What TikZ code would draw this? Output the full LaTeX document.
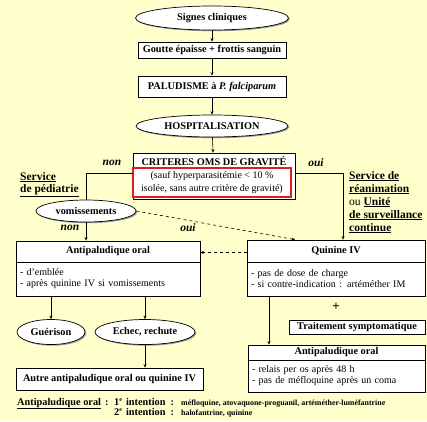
\documentclass[tikz,border=0pt]{standalone}
\usepackage{fontspec}
\setmainfont{Liberation Serif}
\usetikzlibrary{shapes.geometric,arrows.meta,shadows}
\definecolor{bgyel}{RGB}{255,255,204}
\definecolor{redbox}{RGB}{220,30,30}
\newcommand{\supe}{\raisebox{3.2pt}{\fontsize{6}{6}\selectfont e}}
\begin{document}
\begin{tikzpicture}[x=1pt,y=-1pt,
  shad/.style={drop shadow={shadow xshift=1.2pt,shadow yshift=-1.2pt,fill=black!40,opacity=1}},
  tit/.style={font=\bfseries\fontsize{10.3}{12}\selectfont},
  txt/.style={font=\fontsize{10}{11}\selectfont},
  box/.style={draw,fill=white,line width=0.7pt,inner sep=0pt,shad},
  oval/.style={ellipse,draw,fill=white,line width=0.7pt,inner sep=0pt,shad,tit},
  body/.style={box,txt,align=left,inner xsep=4pt,inner ysep=0pt},
  conn/.style={line width=0.6pt},
  arr/.style={conn,-{Stealth[length=3.5pt,width=3pt]}},
  lab/.style={font=\bfseries\itshape\fontsize{11.5}{13}\selectfont,inner sep=0pt},
  svc/.style={font=\bfseries\fontsize{11.5}{13}\selectfont,inner sep=0pt,anchor=base west},
  foot/.style={font=\bfseries\fontsize{10.3}{12}\selectfont,inner sep=0pt,anchor=base west},
  small/.style={font=\bfseries\fontsize{7.9}{8}\selectfont,inner sep=0pt,anchor=base west}
]
\useasboundingbox (0,0) rectangle (427,421);
\fill[bgyel] (0,0) rectangle (427,421);

% top chain
\node[oval,minimum width=153pt,minimum height=24pt] (signes) at (212,18) {Signes cliniques};
\node[box,tit,minimum width=148pt,minimum height=16pt] (goutte) at (212,50) {Goutte épaisse + frottis sanguin};
\node[box,tit,minimum width=148pt,minimum height=21pt] (palu) at (212,86.5) {PALUDISME à \textit{P. falciparum}};
\node[oval,minimum width=152pt,minimum height=22pt] (hosp) at (212,126) {HOSPITALISATION};

% criteres
\node[box,minimum width=162pt,minimum height=46pt] (crit) at (214,176) {};
\node[tit,inner sep=0pt] (critt) at (214,161) {CRITERES OMS DE GRAVITÉ};
\node[draw=redbox,fill=white,line width=1.3pt,inner sep=0pt,minimum width=158pt,minimum height=29pt,
      align=center,font=\fontsize{10}{13}\selectfont] (excep) at (212,182.5)
      {(sauf hyperparasitémie < 10 \%\\isolée, sans autre critère de gravité)};

\draw[arr] (signes) -- (goutte);
\draw[arr] (goutte) -- (palu);
\draw[arr] (palu) -- (hosp);
\draw[arr] (hosp) -- (crit);

% labels non / oui
\node[lab] (non1) at (112,163) {non};
\node[lab] (oui1) at (316,163) {oui};
\node[lab] (non2) at (70,228) {non};
\node[lab] (oui2) at (188,228) {oui};

% services
\node[svc] (sp1) at (20,180) {\underline{Service}};
\node[svc] (sp2) at (20,192) {\underline{de pédiatrie}};
\node[svc] (sr1) at (349,179) {\underline{Service de}};
\node[svc] (sr2) at (349,192) {\underline{réanimation}};
\node[svc] (sr3) at (349,205) {\mdseries ou \bfseries\underline{Unité}};
\node[svc] (sr4) at (349,218) {\underline{de surveillance}};
\node[svc] (sr5) at (349,231) {\underline{continue}};

% vomissements
\node[oval,minimum width=100pt,minimum height=22pt] (vomi) at (86,211) {vomissements};

% left antipaludique
\node[box,tit,minimum width=184pt,minimum height=21pt] (apt) at (108,251.5) {Antipaludique oral};
\node[body,text width=176pt,minimum height=34pt] (apb) at (108,279)
  {- d’emblée\\- après quinine IV si vomissements};

% quinine
\node[box,tit,minimum width=178pt,minimum height=22pt] (quint) at (336,251) {Quinine IV};
\node[body,text width=170pt,minimum height=34pt] (quinb) at (336,279)
  {- pas de dose de charge\\- si contre-indication : artéméther IM};

% connectors from criteres
\draw[conn] ([yshift=3pt]crit.west) -| (vomi.north);
\draw[arr] ([yshift=3pt]crit.east) -| ([xshift=7pt]quint.north);
\draw[arr] (vomi.south) -- (vomi.south |- apt.north);
\draw[arr,dashed] (vomi.east) -- ([xshift=-41pt]quint.north);
\draw[arr,dashed] ([yshift=-1.5pt]quint.west) -- ([yshift=-1.5pt]quint.west -| apt.east);

% outcomes
\node[oval,minimum width=68pt,minimum height=25pt] (guer) at (51,332) {Guérison};
\node[oval,minimum width=100pt,minimum height=25pt] (echec) at (145,332) {Echec, rechute};
\node[box,tit,minimum width=187pt,minimum height=22pt] (autre) at (109.5,379) {Autre antipaludique oral ou quinine IV};
\draw[arr] (apb.south -| guer.north) -- (guer.north);
\draw[arr] (apb.south -| echec.north) -- (echec.north);
\draw[arr] (echec.south) -- (echec.south |- autre.north);

% right lower
\node[font=\bfseries\fontsize{13}{13}\selectfont,inner sep=0pt] (plus) at (336,307) {+};
\node[box,tit,minimum width=136pt,minimum height=14pt] (trait) at (357,327) {Traitement symptomatique};
\node[box,tit,minimum width=177pt,minimum height=15pt] (aprt) at (336.5,352.5) {Antipaludique oral};
\node[body,text width=169pt,minimum height=32pt] (aprb) at (336.5,376)
  {- relais per os après 48 h\\- pas de méfloquine après un coma};
\draw[arr] ([xshift=-67pt]quinb.south) -- ([xshift=-67pt]quinb.south |- aprt.north);

% footer
\node[foot] (f1) at (17,405) {\underline{Antipaludique oral}\hspace{4pt}:};
\node[foot] (f2) at (114,405) {1\supe\hspace{4pt}intention\hspace{5pt}:};
\node[small] (f2b) at (181,405) {méfloquine, atovaquone-proguanil, artéméther-luméfantrine};
\node[foot] (f3) at (114,415) {2\supe\hspace{4pt}intention\hspace{5pt}:};
\node[small] (f3b) at (181,415) {halofantrine, quinine};
\end{tikzpicture}
\end{document}
